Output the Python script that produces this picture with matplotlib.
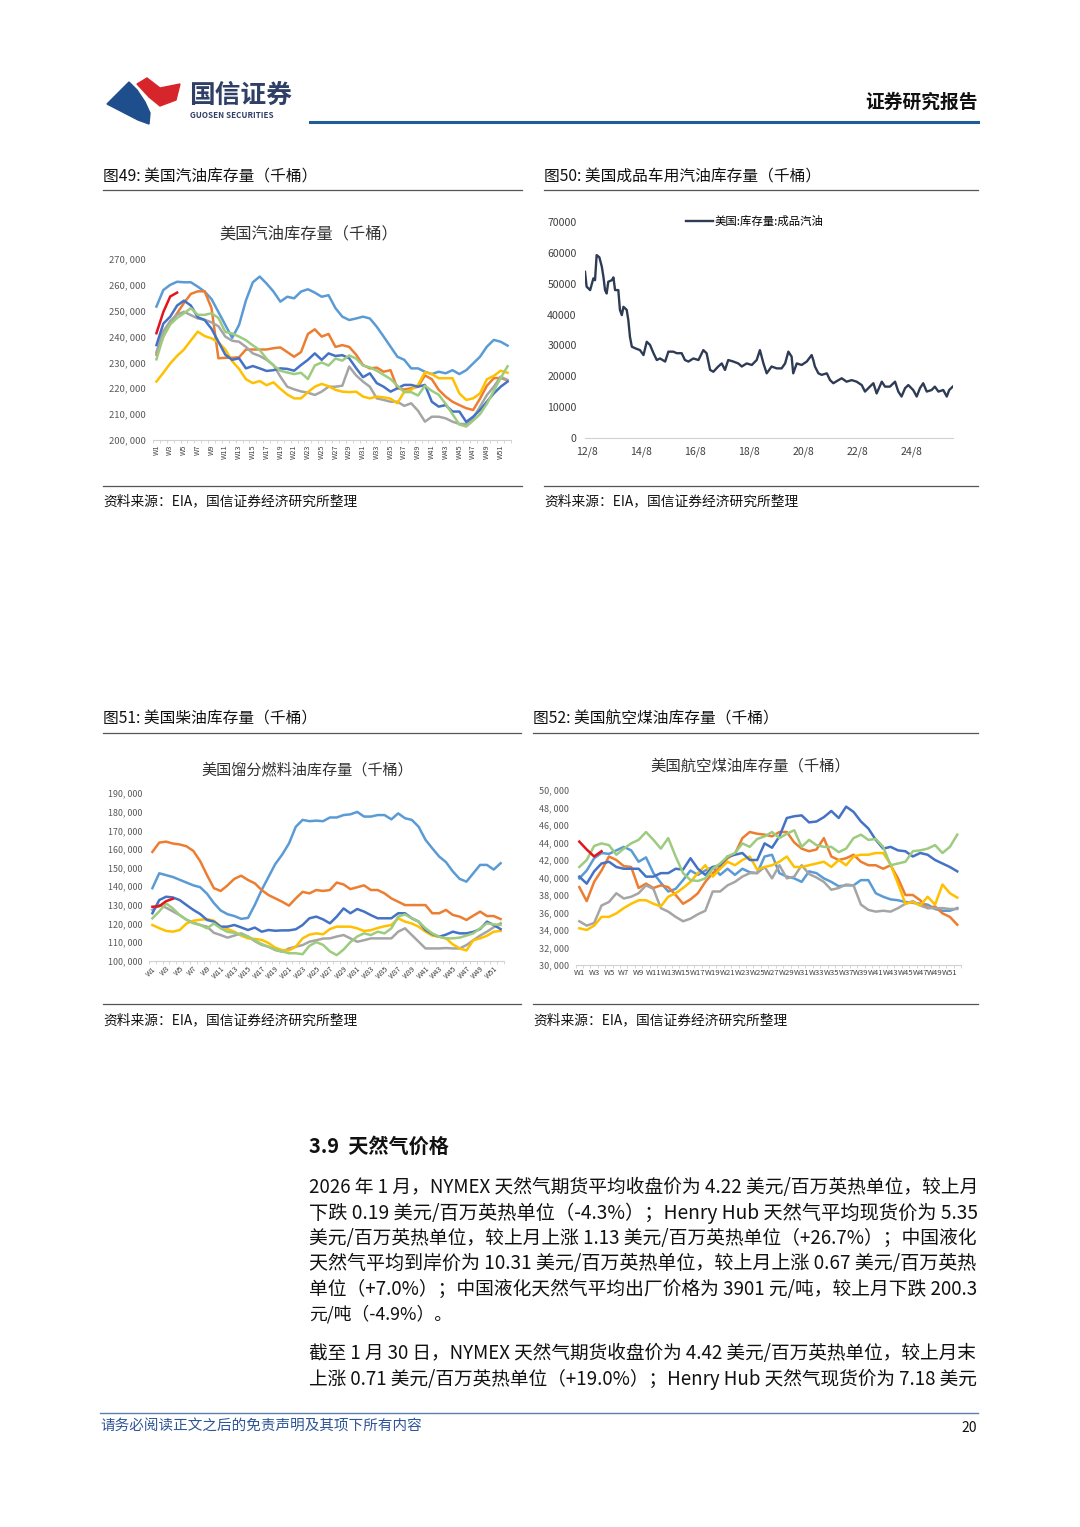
import numpy as np
import matplotlib
matplotlib.use("Agg")
import matplotlib.pyplot as plt
from matplotlib.lines import Line2D
from matplotlib.patches import Polygon
from matplotlib.ticker import FuncFormatter

plt.rcParams['font.family'] = ['Noto Sans CJK SC', 'DejaVu Sans']

# ---------------- data ----------------
weeks = list(range(1, 53))

# US gasoline stocks, thousand barrels (values /1000)
gas_2020 = [251.6, 258, 260, 261.2, 261, 261, 259.3, 257.4, 254.5, 249.5, 244.5, 239.5, 244.5, 254, 261, 263.2,
            260.5, 257.4, 253.5, 255.4, 254.8, 257.4, 258.3, 257, 255.4, 256, 251, 247.7, 246.4, 247, 247.7, 247,
            243.8, 240, 236.1, 232.2, 231, 227.7, 227.7, 226.4, 225.5, 226.4, 225.8, 227, 225.5, 227, 229.6, 232.2,
            236.1, 238.7, 238, 236.5]
gas_2021 = [233, 240, 245, 249, 253, 256.5, 257.5, 257.5, 251, 231.6, 231.8, 231.8, 232, 235, 235, 235, 235,
            235.5, 235.8, 234, 232.2, 234, 241, 242.8, 240, 241, 236, 236.7, 236, 233, 229, 227.7, 228, 226.4, 227,
            220, 219.5, 220, 220.6, 225, 223.5, 219.4, 216.8, 214.8, 213.5, 212.3, 211.6, 216, 221, 223.9, 224, 223]
gas_2022 = [234, 242, 246, 248.5, 249.6, 248.3, 247, 246.5, 245.5, 244, 240, 238.4, 238, 236, 233.5, 232.5, 231,
            229, 224.5, 220.6, 219.6, 218.8, 218.3, 217.4, 218.7, 220.6, 220.6, 221, 228.4, 225, 222.6, 220.6, 216.1,
            215.5, 214.8, 214.8, 213.2, 214.2, 211.3, 207.1, 209, 209, 208.4, 207.1, 206.2, 206.2, 208.4, 212.9,
            217.4, 220.6, 224.5, 223.2]
gas_2023 = [222.6, 226, 229.6, 232.5, 235, 238.5, 241.9, 240.2, 239.3, 237.8, 235, 230.5, 227.5, 223.5, 222,
            222.8, 221.2, 222.3, 219.8, 217.6, 216.1, 216.1, 218.5, 220.6, 221.7, 220.8, 219.4, 218.7, 218.5, 218.7,
            216.8, 216.1, 216.8, 216.5, 216, 214.2, 218.7, 219.4, 221.3, 226.2, 225.5, 223.9, 223.9, 223.9, 218,
            215.5, 216.1, 218, 223.5, 224.8, 226.8, 226]
gas_2024 = [236.7, 245, 247.7, 252, 253.9, 252, 247.5, 246.4, 243, 238, 233, 231, 231.6, 227.7, 228.6, 227.7,
            226.7, 227, 227.7, 227.5, 226.8, 229, 231, 233.5, 231, 233.5, 232.5, 232.8, 231.6, 227.8, 224.3, 225.8,
            222, 220.6, 218.7, 220, 221.3, 221.3, 220.6, 221.3, 214.8, 212.9, 213.5, 211, 211, 207, 209, 211.6,
            214.8, 218, 220.6, 222.6]
gas_2025 = [231.2, 240, 244.7, 247.2, 249, 251, 248.4, 248.4, 249, 247.2, 241.8, 241.2, 240, 238.6, 236.6, 234.8,
            231.4, 228.8, 226.8, 226.1, 225.5, 226, 223.6, 228.8, 230, 228.8, 231.5, 230.7, 232.7, 231.5, 228.8,
            228.1, 226.8, 225.2, 223.6, 221, 218.5, 218.5, 217.2, 221, 219, 217.5, 214, 210, 206, 205.2, 207.5, 210,
            214, 219, 224, 228.5]
gas_2026 = [241.3, 249.5, 255.5, 257]

# US distillate fuel oil stocks
dist_2020 = [139, 147, 146, 145, 143.5, 142, 140.5, 139.5, 136, 131, 127, 125, 124, 122.5, 123, 130, 138, 145,
             152, 157, 163, 172, 175.7, 175, 175.3, 175, 177, 177, 178.3, 178.7, 180, 177.5, 177.5, 178.3, 178.3,
             176, 179.2, 176.6, 175.7, 172, 165, 160.4, 156, 153, 148, 144, 142.5, 147, 151.5, 151.5, 149, 152.4]
dist_2021 = [158.5, 163.5, 164, 163, 162.5, 161.5, 159, 153.5, 146, 139, 137.5, 140.5, 144, 145.7, 143.4, 141.6,
             138, 135.3, 133.5, 131.7, 129.6, 133.5, 137, 136.2, 138, 137.5, 138, 142, 141, 138.5, 139.5, 140.5, 138,
             138, 136.2, 133.5, 131.7, 129.9, 129.9, 129.9, 129.9, 125.5, 125.5, 127.3, 124.6, 123.7, 121.9, 124.2,
             126.4, 124, 124, 122.4]
dist_2022 = [127.3, 129.9, 128.5, 126.5, 124.5, 122, 120.5, 119.2, 118.3, 115, 113.8, 112.4, 113.5, 114.7, 113,
             110.5, 108.5, 107.5, 105.7, 104.8, 106.6, 107.5, 108.4, 110.2, 111, 111.9, 112, 113, 113.8, 112, 110.2,
             111, 112, 112, 112, 112, 115.6, 117.4, 113.8, 110.2, 106.6, 106.6, 106.6, 106.8, 106.6, 106.6, 108.4,
             111, 113.5, 115.6, 118, 120.1]
dist_2023 = [119.2, 117.5, 116, 115.6, 116.5, 120, 121.5, 122, 122.4, 121.5, 118.3, 117, 115.6, 113.5, 112, 111.7,
             111.2, 109.5, 107, 105.7, 105.5, 107.5, 112, 114, 114.7, 114.2, 117, 118.3, 118.3, 118.3, 117.4, 116,
             116.4, 117.6, 118.5, 119.2, 122.8, 121, 120, 118.3, 115.6, 113.5, 112.9, 112, 108.8, 106.6, 105.5, 111,
             112, 113.4, 115.6, 116]
dist_2024 = [125.5, 132.6, 134.4, 134, 132.6, 129.9, 127.3, 125.1, 121.9, 121, 118.3, 118.3, 119.2, 117.9, 116.5,
             117.8, 115.6, 116.5, 116.1, 116.3, 116.3, 116.9, 119.2, 122.8, 123.7, 122.2, 120.1, 123.7, 128.1, 125.5,
             127.8, 126.4, 124.5, 122.8, 122.8, 122.8, 125.5, 125.5, 122.8, 121, 116.5, 114.3, 112.9, 114, 115.6,
             114.7, 114.7, 115.5, 117, 121, 119.2, 117]
dist_2025 = [122.8, 126.5, 130.8, 128.1, 124.5, 122, 120.1, 119.2, 117.4, 120, 117.4, 115.5, 115, 114, 113, 111,
             109, 107.5, 106, 105, 104, 104, 103.5, 108, 110, 108.5, 105, 103, 106, 110, 113, 114.7, 113.8, 115.6,
             114.7, 117.4, 123.7, 124.9, 122.8, 121, 117.4, 114.7, 112.9, 112, 112, 112.4, 113.5, 114.7, 117.4,
             120.1, 119.5, 119.2]
dist_2026 = [129, 129.3, 132, 133.3]

# US jet fuel stocks
jet_2020 = [39.9, 40.8, 42.2, 42.8, 42.7, 43.1, 43.5, 43.1, 41.8, 42.3, 40.5, 39.4, 38.4, 38.7, 39.7, 40.8, 40.3,
            40.8, 41.2, 40.3, 41, 40.3, 41, 40.6, 40.5, 42.4, 42.6, 40.5, 40.1, 39.9, 39.5, 40.7, 40.5, 39.9, 39.5,
            39, 39.1, 39.1, 39.7, 39.7, 38.2, 37.8, 37.5, 37.4, 37.2, 37.1, 37, 36.9, 36.4, 36.2, 36.2, 36.5]
jet_2021 = [38.9, 37.3, 39.5, 40.8, 42.4, 42, 41.3, 41.2, 38.8, 39.3, 38.8, 39.1, 38.9, 38, 37, 37.5, 38.2, 39.5,
            40.5, 41.2, 42.2, 42.7, 44.5, 45.2, 45, 44.9, 44.7, 45.2, 45.2, 44, 43.3, 43, 43.2, 44.5, 42.4, 42, 42.2,
            42.6, 41.8, 41.4, 41.4, 41, 41.4, 39.9, 38, 38, 37.4, 36.5, 36.7, 35.9, 35.5, 34.6]
jet_2022 = [35, 34.5, 34.8, 36.8, 37.2, 38.2, 37.6, 37.8, 38.2, 39.1, 38.7, 36.5, 36.1, 35.5, 35, 35.3, 35.8, 36.2,
            38.4, 38.4, 39.1, 39.5, 40.1, 40.5, 40.5, 41.2, 39.9, 41.4, 39.9, 40.1, 41.4, 40.4, 40, 39.5, 38.6,
            38.8, 39.2, 39.1, 36.9, 36.3, 36.1, 36.2, 36.1, 36.5, 37, 37.3, 36.8, 36.5, 36.5, 36.5, 36.4, 36.4]
jet_2023 = [34.2, 34, 34.5, 35.5, 35.5, 35.9, 36.5, 37, 37.4, 37.4, 37, 36.7, 37.8, 38.2, 38.8, 39.5, 40.5, 41.4,
            40.1, 41, 41.8, 41.4, 42, 42.4, 40.9, 41.2, 41.4, 41.8, 42.4, 41.2, 41.2, 41.4, 41.6, 41.8, 41.2, 42,
            41.4, 42.4, 42.6, 42.6, 42.8, 42.8, 41.5, 39.3, 37, 37.2, 36.8, 37.8, 36.9, 39.2, 38.2, 37.7]
jet_2024 = [40.1, 39.3, 40.7, 41.6, 41.8, 41.2, 41, 41, 41, 40.1, 40.1, 40.5, 40.5, 41, 40.9, 42.2, 41, 40.3, 41.2,
            41.4, 42.4, 42.6, 42.8, 42, 42, 43.9, 43.4, 44.7, 46.8, 47, 47.1, 46.3, 46.4, 46.9, 47.6, 46.8, 48.1,
            47.5, 46.4, 45.6, 44.3, 43.3, 43.5, 43.1, 43, 42.4, 42.8, 42.6, 42, 41.6, 41.2, 40.7]
jet_2025 = [41.2, 42, 43.6, 43.9, 43.7, 42.6, 43.3, 43.9, 44.3, 45.2, 44.3, 43.3, 44.5, 42.4, 40.5, 39.7, 39.6,
            39.9, 41, 41.6, 42.4, 42.8, 43.9, 43.5, 44.4, 44.7, 45.2, 44.5, 45, 45.4, 43.5, 44.3, 43.7, 43.5, 43.5,
            42.9, 43.3, 44.5, 44.9, 44.3, 44.4, 43.5, 41.4, 41.6, 41.8, 43, 43.1, 43.3, 43.7, 42.8, 43.5, 44.9]
jet_2026 = [44.1, 43.2, 42.4, 43]

# finished motor gasoline stocks (decimal year, thousand barrels)
mogas_t = [2012.52, 2012.58, 2012.71, 2012.83, 2012.89, 2012.95, 2013.05, 2013.14, 2013.20, 2013.26, 2013.32,
           2013.38, 2013.51, 2013.57, 2013.63, 2013.75, 2013.81, 2013.88, 2013.94, 2014.06, 2014.12, 2014.18,
           2014.25, 2014.37, 2014.55, 2014.68, 2014.80, 2014.92, 2015.05, 2015.17, 2015.29, 2015.48, 2015.60,
           2015.78, 2015.91, 2016.09, 2016.21, 2016.34, 2016.52, 2016.71, 2016.89, 2017.01, 2017.14, 2017.26,
           2017.44, 2017.57, 2017.69, 2017.81, 2018.00, 2018.18, 2018.31, 2018.49, 2018.68, 2018.86, 2018.98,
           2019.11, 2019.23, 2019.41, 2019.60, 2019.78, 2019.91, 2020.03, 2020.15, 2020.21, 2020.34, 2020.52,
           2020.71, 2020.89, 2020.95, 2021.01, 2021.14, 2021.26, 2021.45, 2021.57, 2021.69, 2021.88, 2022.00,
           2022.18, 2022.37, 2022.55, 2022.74, 2022.86, 2023.04, 2023.17, 2023.29, 2023.48, 2023.60, 2023.78,
           2023.97, 2024.09, 2024.21, 2024.34, 2024.46, 2024.64, 2024.77, 2024.89, 2025.01, 2025.14, 2025.32,
           2025.44, 2025.57, 2025.75, 2025.88, 2025.97, 2026.10]
mogas_v = [53.8, 49.0, 47.9, 51.7, 51.1, 59.2, 58.5, 55.5, 52.2, 47.9, 46.8, 50.6, 51.1, 52.0, 47.9, 47.9, 41.5,
           39.8, 42.5, 41.5, 38.2, 32.8, 29.6, 29.1, 28.5, 26.9, 31.2, 30.2, 27.5, 25.3, 25.8, 24.8, 28.0, 28.0,
           27.5, 27.5, 25.3, 24.8, 25.8, 25.3, 28.5, 27.5, 22.1, 21.5, 23.2, 24.2, 22.1, 25.3, 24.8, 24.2, 23.2,
           24.2, 23.7, 25.3, 28.5, 24.2, 21.0, 23.2, 22.6, 22.6, 24.2, 28.0, 26.4, 21.0, 24.2, 23.7, 24.8, 26.9,
           25.3, 23.2, 21.0, 20.5, 21.0, 18.8, 17.8, 18.8, 19.4, 18.3, 18.8, 18.3, 17.2, 15.1, 16.7, 17.8, 14.5,
           18.3, 16.7, 16.7, 18.3, 15.1, 13.5, 16.2, 17.2, 15.6, 13.5, 16.2, 17.8, 15.1, 15.6, 16.7, 15.1, 15.6,
           13.5, 15.6, 16.7]
mogas_ticks = [2012.583, 2014.583, 2016.583, 2018.583, 2020.583, 2022.583, 2024.583]
mogas_labels = ['12/8', '14/8', '16/8', '18/8', '20/8', '22/8', '24/8']

year_colors = {'2020': '#5B9BD5', '2021': '#ED7D31', '2022': '#A5A5A5', '2023': '#FFC000',
               '2024': '#4472C4', '2025': '#9DCB7F', '2026': '#E3141C'}

# ---------------- page ----------------
W, H = 1080, 1527
fig = plt.figure(figsize=(W / 100, H / 100), dpi=100)


def fx(x):
    return x / W


def fy(y):
    return 1 - y / H


def ftext(x, y, s, **kw):
    kw.setdefault('va', 'center')
    return fig.text(fx(x), fy(y), s, **kw)


def hline(x0, x1, y, color='#404040', lw=0.8):
    fig.add_artist(Line2D([fx(x0), fx(x1)], [fy(y), fy(y)], color=color, lw=lw,
                          transform=fig.transFigure))


def axes_px(left, top, right, bottom):
    return fig.add_axes([fx(left), fy(bottom), (right - left) / W, (bottom - top) / H])


# header / logo
fig.add_artist(Polygon([(fx(x), fy(y)) for x, y in
                        [(107, 104), (129, 82), (137, 90), (145, 102), (150, 113), (149, 124), (138, 120)]],
                       closed=True, color='#1F4E8C', transform=fig.transFigure))
fig.add_artist(Polygon([(fx(x), fy(y)) for x, y in
                        [(137, 84), (147, 78), (160, 88), (180, 84), (176, 100), (160, 106), (149, 97)]],
                       closed=True, color='#D7262B', transform=fig.transFigure))
ftext(189, 95, '国信证券', fontsize=18.5, fontweight='bold', color='#2F3F66')
ftext(190, 116, 'GUOSEN SECURITIES', fontsize=5.8, fontweight='bold', color='#2F3F66')
ftext(978, 102, '证券研究报告', fontsize=13.5, fontweight='bold', color='#111111', ha='right')
hline(310, 978, 122, color='#1F5C99', lw=2.2)

# panel frames
for x0, x1, ytitle, yline, ybot, ysrc, title in [
        (103, 522, 177, 190, 486, 501, '图49: 美国汽油库存量（千桶）'),
        (544, 978, 177, 190, 486, 501, '图50: 美国成品车用汽油库存量（千桶）'),
        (103, 521, 719, 733, 1004, 1020, '图51: 美国柴油库存量（千桶）'),
        (533, 978, 719, 733, 1004, 1020, '图52: 美国航空煤油库存量（千桶）')]:
    ftext(x0, ytitle, title, fontsize=11.3, color='#111111')
    hline(x0, x1, yline, color='#555555', lw=0.9)
    hline(x0, x1, ybot, color='#555555', lw=0.9)
    ftext(x0, ysrc, '资料来源：EIA，国信证券经济研究所整理', fontsize=9.9, color='#111111')


def thousands(v, p):
    return f"{v:,.0f}".replace(",", ", ")


def weekly_chart(ax, series, ylo, yhi, step, rot, xfs, yfs):
    for vals, year in series:
        ax.plot(weeks[:len(vals)], [v * 1000 for v in vals], color=year_colors[year], lw=1.8,
                solid_joinstyle='round')
    ax.set_xlim(0.5, 52.5)
    ax.set_ylim(ylo, yhi)
    ax.set_yticks(np.arange(ylo, yhi + 1, step))
    ax.yaxis.set_major_formatter(FuncFormatter(thousands))
    ax.set_xticks(weeks[::2])
    if rot == 45:
        ax.set_xticklabels([f"W{w}" for w in weeks[::2]], rotation=45, ha='right', rotation_mode='anchor')
    else:
        ax.set_xticklabels([f"W{w}" for w in weeks[::2]], rotation=rot)
    ax.set_xticks(np.arange(0.5, 53, 1), minor=True)
    ax.tick_params(axis='x', which='major', length=0, labelsize=xfs, labelcolor='#404040', pad=3)
    ax.tick_params(axis='x', which='minor', length=2.5, color='#D0D0D0')
    ax.tick_params(axis='y', length=0, labelsize=yfs, labelcolor='#595959', pad=5)
    for s in ['top', 'right', 'left']:
        ax.spines[s].set_visible(False)
    ax.spines['bottom'].set_color('#D0D0D0')
    ax.patch.set_alpha(0)


# chart 49 – gasoline
ax1 = axes_px(153, 259, 511, 440)
weekly_chart(ax1, [(gas_2020, '2020'), (gas_2021, '2021'), (gas_2022, '2022'), (gas_2023, '2023'),
                   (gas_2024, '2024'), (gas_2025, '2025'), (gas_2026, '2026')],
             200000, 270000, 10000, 90, 5.2, 6.8)
ftext(309, 234, '美国汽油库存量（千桶）', fontsize=11.7, color='#333333', ha='center')

# chart 50 – finished motor gasoline
ax2 = axes_px(585, 221.7, 953, 438.3)
ax2.plot(mogas_t, [v * 1000 for v in mogas_v], color='#2E3B55', lw=1.7, label='美国:库存量:成品汽油')
ax2.set_xlim(2012.52, 2026.11)
ax2.set_ylim(0, 70000)
ax2.set_yticks(np.arange(0, 70001, 10000))
ax2.set_xticks(mogas_ticks)
ax2.set_xticklabels(mogas_labels)
ax2.tick_params(axis='both', length=0, labelsize=7.6, labelcolor='#404040', pad=6)
for s in ['top', 'right', 'left']:
    ax2.spines[s].set_visible(False)
ax2.spines['bottom'].set_color('#D0D0D0')
ax2.legend(loc='center left', bbox_to_anchor=(fx(686), fy(221)), bbox_transform=fig.transFigure,
           frameon=False, fontsize=8.2, handlelength=2.4, handletextpad=0.15, borderpad=0, borderaxespad=0)

# chart 51 – distillate
ax3 = axes_px(149, 793.3, 504, 960.7)
weekly_chart(ax3, [(dist_2020, '2020'), (dist_2021, '2021'), (dist_2022, '2022'), (dist_2023, '2023'),
                   (dist_2024, '2024'), (dist_2025, '2025'), (dist_2026, '2026')],
             100000, 190000, 10000, 45, 5.2, 6.4)
ftext(307, 770, '美国馏分燃料油库存量（千桶）', fontsize=10.9, color='#333333', ha='center')

# chart 52 – jet fuel
ax4 = axes_px(575.6, 790, 961, 965)
weekly_chart(ax4, [(jet_2020, '2020'), (jet_2021, '2021'), (jet_2022, '2022'), (jet_2023, '2023'),
                   (jet_2024, '2024'), (jet_2025, '2025'), (jet_2026, '2026')],
             30000, 50000, 2000, 0, 5.6, 6.5)
ftext(750, 766, '美国航空煤油库存量（千桶）', fontsize=11.1, color='#333333', ha='center')

# body text
ftext(309, 1146, '3.9  天然气价格', fontsize=14.5, fontweight='bold', color='#111111')

body = [
    (1188, '2026 年 1 月，NYMEX 天然气期货平均收盘价为 4.22 美元/百万英热单位，较上月', True),
    (1213, '下跌 0.19 美元/百万英热单位（-4.3%）；Henry Hub 天然气平均现货价为 5.35', True),
    (1238, '美元/百万英热单位，较上月上涨 1.13 美元/百万英热单位（+26.7%）；中国液化', True),
    (1264, '天然气平均到岸价为 10.31 美元/百万英热单位，较上月上涨 0.67 美元/百万英热', True),
    (1289, '单位（+7.0%）；中国液化天然气平均出厂价格为 3901 元/吨，较上月下跌 200.3', True),
    (1314, '元/吨（-4.9%）。', False),
    (1354, '截至 1 月 30 日，NYMEX 天然气期货收盘价为 4.42 美元/百万英热单位，较上月末', True),
    (1379, '上涨 0.71 美元/百万英热单位（+19.0%）；Henry Hub 天然气现货价为 7.18 美元', True),
]
renderer = fig.canvas.get_renderer()
base_fs = 12.8
for y, s, fit in body:
    t = ftext(309, y, s, fontsize=base_fs, color='#111111')
    if fit:
        w = t.get_window_extent(renderer).width
        t.set_fontsize(base_fs * 668 / w)

# footer
hline(100, 978, 1413, color='#5B7DB1', lw=1.0)
ftext(100, 1426, '请务必阅读正文之后的免责声明及其项下所有内容', fontsize=10.5, color='#2E5597', style='italic')
ftext(977, 1428, '20', fontsize=10, color='#111111', ha='right')

fig.savefig('out.png', dpi=100)
